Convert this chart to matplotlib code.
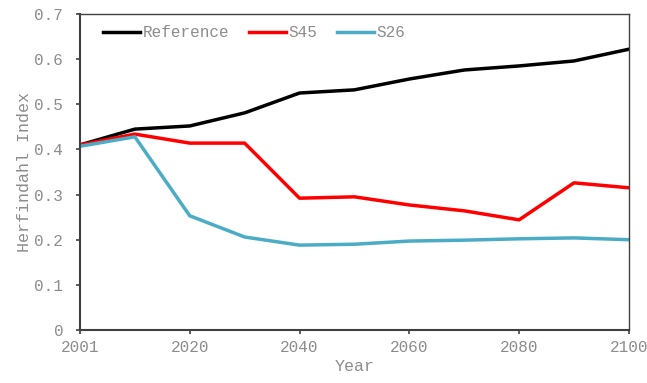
import matplotlib.pyplot as plt

years = [2001, 2010, 2020, 2030, 2040, 2050, 2060, 2070, 2080, 2090, 2100]
reference = [0.410, 0.445, 0.452, 0.481, 0.525, 0.532, 0.556, 0.576, 0.585, 0.596, 0.622]
s45 = [0.410, 0.434, 0.414, 0.414, 0.292, 0.295, 0.277, 0.264, 0.244, 0.326, 0.315]
s26 = [0.407, 0.428, 0.253, 0.206, 0.188, 0.190, 0.197, 0.199, 0.202, 0.204, 0.200]

plt.rcParams['font.family'] = ['Liberation Mono', 'DejaVu Sans']
grey = '#8c8c8c'

fig = plt.figure(figsize=(6.47, 3.83), dpi=100)
ax = fig.add_axes([0.1236, 0.1384, 0.8484, 0.825])

x = list(range(len(years)))
ax.plot(x, reference, color='black', lw=2.5, label='Reference')
ax.plot(x, s45, color='#ff0000', lw=2.5, label='S45')
ax.plot(x, s26, color='#4bacc6', lw=2.5, label='S26')

ax.set_xlim(0, len(years) - 1)
ax.set_ylim(0, 0.7)
ax.set_xticks(x[::2])
ax.set_xticklabels([str(y) for y in years[::2]])
ax.set_yticks([0, 0.1, 0.2, 0.3, 0.4, 0.5, 0.6, 0.7])
ax.set_yticklabels(['0', '0.1', '0.2', '0.3', '0.4', '0.5', '0.6', '0.7'])

for s in ax.spines.values():
    s.set_color('#404040')
    s.set_linewidth(1.0)
ax.spines['left'].set_linewidth(1.5)
ax.spines['bottom'].set_linewidth(1.5)
ax.tick_params(axis='both', colors='#404040', labelcolor=grey, labelsize=11.5,
               length=3, width=1.2, direction='out')
ax.tick_params(axis='x', pad=4)
ax.tick_params(axis='y', pad=9)

ax.set_xlabel('Year', color=grey, fontsize=12, labelpad=3)
ax.set_ylabel('Herfindahl Index', color=grey, fontsize=12, labelpad=2)

leg = ax.legend(loc='upper left', ncol=3, frameon=False, fontsize=11.5,
                handlelength=2.3, handletextpad=0.2, columnspacing=1.2,
                bbox_to_anchor=(0.022, 1.0), borderaxespad=0.3)
for t in leg.get_texts():
    t.set_color(grey)

fig.savefig('out.png', dpi=100)
